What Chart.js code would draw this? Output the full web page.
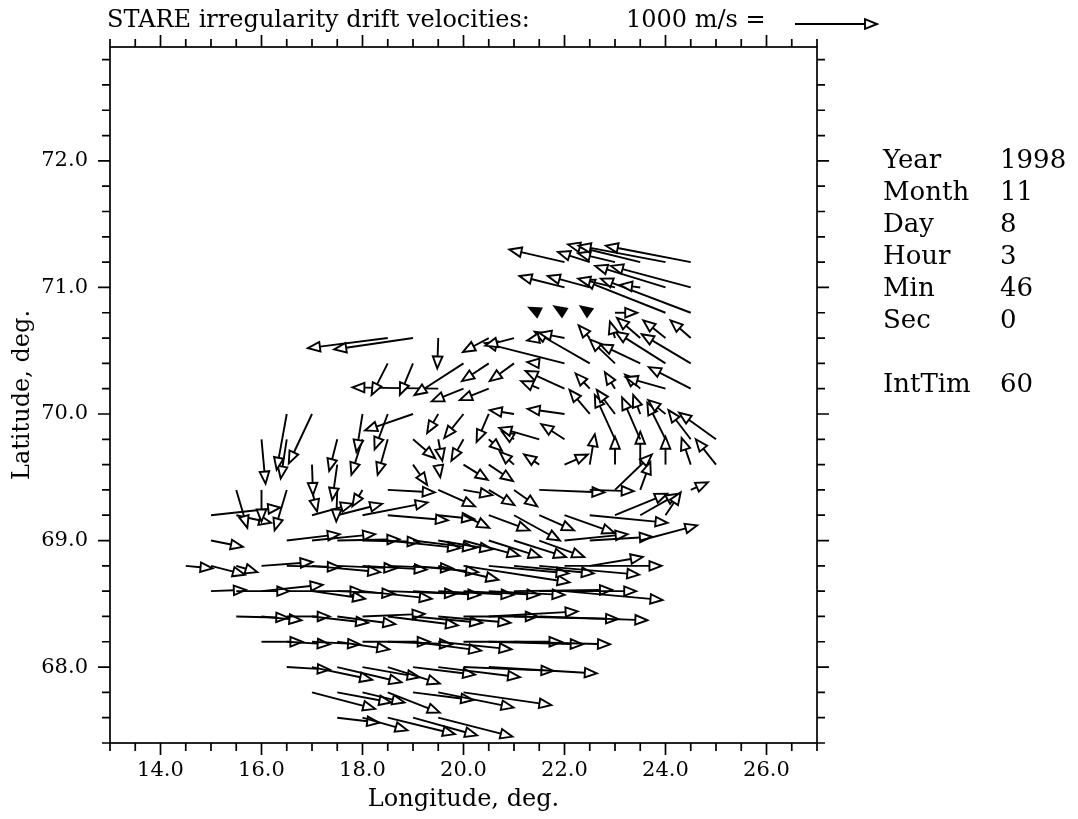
<!DOCTYPE html>
<html>
<head>
<meta charset="utf-8">
<script src="https://cdn.jsdelivr.net/npm/chart.js@4.4.1/dist/chart.umd.min.js"></script>
<style>
  html, body { margin: 0; padding: 0; background: #fff; }
  #wrap { width: 1078px; height: 819px; }
</style>
</head>
<body>
<div id="wrap"><canvas id="chart" width="1078" height="819"></canvas></div>
<script>
// STARE drift vectors: tail position (lon, lat) and vector length in degrees
var lon = [
  17.5, 18.0, 18.5, 19.0, 19.5,
  17.0, 17.5, 18.0, 18.5, 19.0, 19.5, 20.0,
  16.5, 17.0, 17.5, 18.0, 18.5, 19.0, 19.5, 20.0, 20.5,
  16.0, 16.5, 17.0, 17.5, 18.0, 18.5, 19.0, 19.5, 20.0, 20.5, 21.0,
  15.5, 16.0, 16.5, 17.0, 17.5, 18.0, 18.5, 19.0, 19.5, 20.0, 20.5, 21.0, 21.5,
  15.0, 15.5, 16.0, 16.5, 17.0, 17.5, 18.0, 18.5, 19.0, 19.5, 20.0, 20.5, 21.0, 21.5, 22.0,
  14.5, 15.0, 15.5, 16.0, 16.5, 17.0, 17.5, 18.0, 18.5, 19.0, 19.5, 20.0, 20.5, 21.0, 21.5, 22.0, 22.5,
  15.0, 16.5, 17.0, 17.5, 18.0, 18.5, 19.0, 19.5, 20.0, 20.5, 21.0, 21.5, 22.0, 22.5, 23.5,
  15.0, 15.5, 17.0, 17.5, 18.0, 18.5, 19.5, 20.0, 20.5, 21.0, 21.5, 22.0, 22.5, 23.0, 23.5, 24.0,
  15.5, 16.0, 16.5, 17.0, 17.5, 18.0, 18.5, 19.5, 20.0, 20.5, 21.0, 21.5, 22.5, 23.0, 23.5, 24.5,
  17.0, 17.5, 19.0, 19.5, 20.0, 20.5, 21.0, 21.5, 22.0, 22.5, 23.0, 23.5, 24.0, 24.5, 25.0,
  16.0, 16.5, 17.5, 18.0, 18.5, 19.0, 19.5, 20.0, 20.5, 21.0, 21.5, 22.0, 23.0, 23.5, 24.0, 24.5, 25.0,
  16.5, 17.0, 18.0, 18.5, 19.0, 19.5, 20.0, 20.5, 21.0, 22.0, 22.5, 23.0, 23.5, 24.0,
  19.5, 20.0, 20.5, 21.5, 22.0, 22.5, 23.0, 23.5, 24.0, 24.5,
  18.5, 19.0, 20.0, 20.5, 21.0, 21.5, 22.0, 22.5, 23.0, 23.5, 24.0, 24.5,
  18.5, 19.0, 19.5, 20.5, 21.0, 21.5, 22.0, 22.5, 23.0, 23.5, 24.0, 24.5,
  21.5, 22.0, 22.5, 23.0, 24.0, 24.5,
  22.0, 22.5, 23.0, 23.5, 24.0, 24.5,
  22.0, 22.5, 23.0, 23.5, 24.0, 24.5
];
var lat = [
  67.6, 67.6, 67.6, 67.6, 67.6,
  67.8, 67.8, 67.8, 67.8, 67.8, 67.8, 67.8,
  68.0, 68.0, 68.0, 68.0, 68.0, 68.0, 68.0, 68.0, 68.0,
  68.2, 68.2, 68.2, 68.2, 68.2, 68.2, 68.2, 68.2, 68.2, 68.2, 68.2,
  68.4, 68.4, 68.4, 68.4, 68.4, 68.4, 68.4, 68.4, 68.4, 68.4, 68.4, 68.4, 68.4,
  68.6, 68.6, 68.6, 68.6, 68.6, 68.6, 68.6, 68.6, 68.6, 68.6, 68.6, 68.6, 68.6, 68.6, 68.6,
  68.8, 68.8, 68.8, 68.8, 68.8, 68.8, 68.8, 68.8, 68.8, 68.8, 68.8, 68.8, 68.8, 68.8, 68.8, 68.8, 68.8,
  69.0, 69.0, 69.0, 69.0, 69.0, 69.0, 69.0, 69.0, 69.0, 69.0, 69.0, 69.0, 69.0, 69.0, 69.0,
  69.2, 69.2, 69.2, 69.2, 69.2, 69.2, 69.2, 69.2, 69.2, 69.2, 69.2, 69.2, 69.2, 69.2, 69.2, 69.2,
  69.4, 69.4, 69.4, 69.4, 69.4, 69.4, 69.4, 69.4, 69.4, 69.4, 69.4, 69.4, 69.4, 69.4, 69.4, 69.4,
  69.6, 69.6, 69.6, 69.6, 69.6, 69.6, 69.6, 69.6, 69.6, 69.6, 69.6, 69.6, 69.6, 69.6, 69.6,
  69.8, 69.8, 69.8, 69.8, 69.8, 69.8, 69.8, 69.8, 69.8, 69.8, 69.8, 69.8, 69.8, 69.8, 69.8, 69.8, 69.8,
  70.0, 70.0, 70.0, 70.0, 70.0, 70.0, 70.0, 70.0, 70.0, 70.0, 70.0, 70.0, 70.0, 70.0,
  70.2, 70.2, 70.2, 70.2, 70.2, 70.2, 70.2, 70.2, 70.2, 70.2,
  70.4, 70.4, 70.4, 70.4, 70.4, 70.4, 70.4, 70.4, 70.4, 70.4, 70.4, 70.4,
  70.6, 70.6, 70.6, 70.6, 70.6, 70.6, 70.6, 70.6, 70.6, 70.6, 70.6, 70.6,
  70.8, 70.8, 70.8, 70.8, 70.8, 70.8,
  71.0, 71.0, 71.0, 71.0, 71.0, 71.0,
  71.2, 71.2, 71.2, 71.2, 71.2, 71.2
];
var dLon = [
  0.83, 0.89, 1.33, 1.27, 1.47,
  1.25, 1.07, 0.83, 1.03, 1.19, 1.49, 1.74,
  0.85, 1.19, 1.27, 1.13, 1.03, 1.23, 1.62, 1.78, 2.14,
  0.81, 0.85, 0.95, 1.03, 1.33, 1.27, 1.35, 1.45, 1.94, 1.86, 1.90,
  1.03, 0.79, 0.85, 1.11, 1.15, 1.23, 1.39, 1.37, 1.43, 1.47, 1.76, 2.06, 2.14,
  0.69, 1.05, 1.21, 1.50, 1.05, 1.13, 1.37, 1.37, 1.33, 1.49, 1.50, 1.50, 1.94, 1.92, 1.94,
  0.53, 0.67, 0.42, 1.01, 1.05, 1.35, 1.17, 1.27, 1.29, 1.29, 1.19, 2.10, 1.58, 1.58, 1.98, 1.92, 1.05,
  0.63, 1.05, 1.25, 1.23, 1.13, 1.43, 1.23, 1.07, 1.11, 1.03, 1.03, 0.89, 1.25, 1.23, 1.13,
  1.37, 0.69, 0.81, 0.89, 1.29, 1.19, 0.71, 0.51, 0.81, 0.91, 0.69, 0.99, 1.54, 1.03, 0.75, 0.30,
  0.22, 0.00, -0.24, 0.10, -0.02, -0.20, 0.93, 0.73, 0.57, 0.51, 0.46, 1.29, 0.87, 0.73, 0.20, 0.34,
  0.02, -0.10, 0.28, 0.04, 0.48, 0.48, -0.28, -0.30, 0.46, 0.10, 0.00, 0.00, 0.00, -0.18, -0.40,
  0.08, -0.12, -0.16, -0.22, -0.20, 0.44, 0.08, -0.24, 0.26, -0.24, -0.79, -0.46, -0.40, -0.36, -0.36, -0.44, -0.73,
  -0.20, -0.46, -0.12, -0.26, -0.95, -0.22, -0.38, -0.24, -0.48, -0.73, -0.40, -0.36, -0.14, -0.34,
  -1.70, -0.63, -0.57, -0.36, -0.77, -0.28, -0.20, -0.30, -0.79, -0.83,
  -0.32, -0.26, -0.97, -0.53, -0.48, -0.24, -1.58, -1.09, -0.50, -0.79, -0.99, -0.97,
  -1.58, -1.56, -0.02, -0.51, -0.57, -0.24, -0.50, -0.22, -0.10, -0.46, -0.44, -0.40,
  -0.20, -0.20, -0.18, 0.44, -1.64, -1.78,
  -0.89, -0.83, -0.73, -0.40, -1.39, -1.58,
  -1.09, -0.63, -0.73, -1.43, -1.72, -1.68
];
var dLat = [
  -0.04, -0.10, -0.13, -0.14, -0.15,
  -0.13, -0.08, -0.08, -0.16, -0.06, -0.12, -0.10,
  -0.02, -0.10, -0.12, -0.08, -0.13, -0.06, -0.08, -0.03, -0.05,
  0.00, -0.02, -0.02, -0.06, 0.00, -0.02, -0.07, -0.06, 0.00, -0.02, -0.02,
  -0.01, -0.03, 0.00, -0.05, -0.06, 0.02, -0.07, -0.05, -0.05, 0.00, 0.04, -0.02, -0.03,
  0.01, 0.00, 0.05, 0.00, -0.06, -0.02, -0.06, -0.02, -0.03, -0.03, -0.03, -0.03, 0.01, 0.00, -0.07,
  -0.02, -0.07, -0.05, 0.03, -0.01, -0.05, -0.02, -0.03, -0.02, -0.05, -0.11, -0.13, -0.06, -0.06, -0.07, 0.00, 0.07,
  -0.05, 0.05, 0.05, 0.01, -0.01, -0.06, -0.06, -0.07, -0.12, -0.13, -0.13, -0.13, 0.05, 0.03, 0.12,
  0.06, -0.06, 0.09, 0.09, 0.10, -0.04, -0.03, -0.10, -0.12, -0.20, -0.12, -0.14, -0.06, 0.17, 0.17, 0.18,
  -0.30, -0.25, -0.32, -0.17, -0.25, -0.13, -0.02, -0.13, -0.04, -0.12, -0.13, -0.02, -0.01, 0.28, 0.22, 0.06,
  -0.24, -0.28, -0.16, -0.10, -0.12, -0.13, 0.10, 0.08, 0.08, 0.24, 0.22, 0.26, 0.22, 0.21, 0.20,
  -0.35, -0.31, -0.25, -0.28, -0.28, -0.15, -0.17, -0.17, -0.09, 0.06, 0.09, 0.12, 0.35, 0.33, 0.29, 0.23, 0.21,
  -0.44, -0.39, -0.30, -0.28, -0.13, -0.15, -0.19, -0.22, 0.03, 0.04, 0.19, 0.19, 0.15, 0.11,
  0.01, -0.10, -0.09, 0.06, 0.14, 0.12, 0.13, 0.11, 0.09, 0.17,
  -0.25, -0.25, -0.25, -0.14, -0.14, 0.01, 0.16, 0.25, 0.19, 0.15, 0.25, 0.23,
  -0.08, -0.09, -0.24, -0.11, -0.06, -0.02, 0.04, 0.10, 0.13, 0.16, 0.14, 0.14,
  0.04, 0.05, 0.05, 0.00, 0.26, 0.27,
  0.09, 0.09, 0.07, 0.02, 0.17, 0.17,
  0.10, 0.08, 0.07, 0.14, 0.13, 0.13
];

var xLabels = [14, 16, 18, 20, 22, 24, 26];
var yLabels = [68, 69, 70, 71, 72];
var infoNames = ['Year', 'Month', 'Day', 'Hour', 'Min', 'Sec', '', 'IntTim'];
var infoValues = ['1998', '11', '8', '3', '46', '0', '', '60'];

var FONT = 'DejaVu Serif';
Chart.defaults.font.family = FONT;
Chart.defaults.font.size = 21;
Chart.defaults.color = '#000';

function isLabel(v, list) {
  for (var i = 0; i < list.length; i++) {
    if (Math.abs(v - list[i]) < 1e-6) return true;
  }
  return false;
}

function drawArrow(ctx, x0, y0, x1, y1) {
  var dx = x1 - x0, dy = y1 - y0;
  var len = Math.sqrt(dx * dx + dy * dy);
  if (len < 0.5) return;
  var ux = dx / len, uy = dy / len;
  var hl = 12, hw = 4.8;
  if (len <= hl) {
    // too short for a shaft: only a dark head
    var bx0 = x1 - ux * len, by0 = y1 - uy * len;
    ctx.beginPath();
    ctx.moveTo(x1, y1);
    ctx.lineTo(bx0 - uy * hw, by0 + ux * hw);
    ctx.lineTo(bx0 + uy * hw, by0 - ux * hw);
    ctx.closePath();
    ctx.fillStyle = '#000';
    ctx.fill();
    ctx.stroke();
    return;
  }
  var bx = x1 - ux * hl, by = y1 - uy * hl;
  ctx.beginPath();
  ctx.moveTo(x0, y0);
  ctx.lineTo(bx, by);
  ctx.stroke();
  ctx.beginPath();
  ctx.moveTo(x1, y1);
  ctx.lineTo(bx - uy * hw, by + ux * hw);
  ctx.lineTo(bx + uy * hw, by - ux * hw);
  ctx.closePath();
  ctx.fillStyle = '#fff';
  ctx.fill();
  ctx.stroke();
}

var vectorPlugin = {
  id: 'vectors',
  afterDatasetsDraw: function (chart) {
    var ctx = chart.ctx, xs = chart.scales.x, ys = chart.scales.y;
    ctx.save();
    ctx.strokeStyle = '#000';
    ctx.lineWidth = 1.9;
    for (var i = 0; i < lon.length; i++) {
      drawArrow(ctx,
        xs.getPixelForValue(lon[i]), ys.getPixelForValue(lat[i]),
        xs.getPixelForValue(lon[i] + dLon[i]), ys.getPixelForValue(lat[i] + dLat[i]));
    }
    ctx.restore();
  }
};

var framePlugin = {
  id: 'frame',
  afterDraw: function (chart) {
    var ctx = chart.ctx, a = chart.chartArea;
    var xs = chart.scales.x, ys = chart.scales.y;
    ctx.save();
    ctx.strokeStyle = '#000';
    ctx.lineWidth = 1.7;
    ctx.strokeRect(a.left, a.top, a.right - a.left, a.bottom - a.top);
    ctx.beginPath();
    var i, v, p, len;
    for (i = 0; i <= 28; i++) {
      v = 13 + i * 0.5;
      p = xs.getPixelForValue(v);
      len = isLabel(v, xLabels) ? 12 : 8;
      ctx.moveTo(p, a.bottom); ctx.lineTo(p, a.bottom + len);
      ctx.moveTo(p, a.top); ctx.lineTo(p, a.top - len);
    }
    for (i = 0; i <= 27; i++) {
      v = 67.4 + i * 0.2;
      p = ys.getPixelForValue(v);
      len = isLabel(v, yLabels) ? 12 : 8;
      ctx.moveTo(a.left, p); ctx.lineTo(a.left - len, p);
      ctx.moveTo(a.right, p); ctx.lineTo(a.right + len, p);
    }
    ctx.stroke();

    // title with the reference vector
    ctx.fillStyle = '#000';
    ctx.font = '24px "' + FONT + '"';
    ctx.textBaseline = 'middle';
    ctx.textAlign = 'left';
    ctx.fillText('STARE irregularity drift velocities:', 107, 21);
    ctx.fillText('1000 m/s =', 626, 21);
    ctx.lineWidth = 1.9;
    drawArrow(ctx, 795, 24, 877, 24);

    // time info panel
    ctx.fillStyle = '#000';
    ctx.font = '26px "' + FONT + '"';
    for (i = 0; i < infoNames.length; i++) {
      ctx.fillText(infoNames[i], 883, 161 + i * 32);
      ctx.fillText(infoValues[i], 1000, 161 + i * 32);
    }
    ctx.restore();
  }
};

var points = lon.map(function (v, i) { return { x: v, y: lat[i] }; });

new Chart(document.getElementById('chart'), {
  type: 'scatter',
  data: {
    datasets: [{
      label: 'drift',
      data: points,
      pointRadius: 0,
      pointHoverRadius: 0
    }]
  },
  options: {
    responsive: false,
    animation: false,
    devicePixelRatio: 1,
    layout: { padding: { left: 0, right: 261, top: 47, bottom: 0 } },
    plugins: { legend: { display: false }, tooltip: { enabled: false } },
    events: [],
    scales: {
      x: {
        type: 'linear',
        min: 13, max: 27,
        afterFit: function (s) { s.height = 76; },
        grid: { display: false, drawTicks: false },
        border: { display: false },
        ticks: {
          stepSize: 0.5, autoSkip: false, maxRotation: 0, padding: 15,
          callback: function (v) { return isLabel(v, xLabels) ? v.toFixed(1) : ''; }
        },
        title: { display: true, text: 'Longitude, deg.', font: { size: 24 }, padding: { top: 0, bottom: 5 } }
      },
      y: {
        type: 'linear',
        min: 67.4, max: 72.9,
        afterFit: function (s) { s.width = 110; },
        grid: { display: false, drawTicks: false },
        border: { display: false },
        ticks: {
          stepSize: 0.2, autoSkip: false, padding: 22,
          callback: function (v) { return isLabel(v, yLabels) ? v.toFixed(1) : ''; }
        },
        title: { display: true, text: 'Latitude, deg.', font: { size: 24 }, padding: { top: 8, bottom: 0 } }
      }
    }
  },
  plugins: [vectorPlugin, framePlugin]
});
</script>
</body>
</html>
